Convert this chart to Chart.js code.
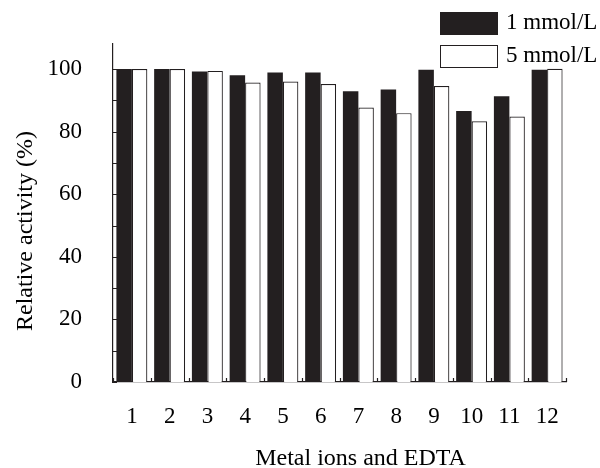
<!DOCTYPE html>
<html>
<head>
<meta charset="utf-8">
<script src="https://cdn.jsdelivr.net/npm/chart.js@4/dist/chart.umd.min.js"></script>
<style>
  html, body { margin: 0; padding: 0; background: #fff; }
  #wrap { width: 600px; height: 468px; }
</style>
</head>
<body>
<div id="wrap"><canvas id="grafico"></canvas></div>
<script>
// datos
const categorias = ['1', '2', '3', '4', '5', '6', '7', '8', '9', '10', '11', '12'];
const actividad1mM = [100, 100, 99.2, 98.0, 98.9, 98.9, 92.9, 93.5, 99.8, 86.6, 91.3, 99.8];
const actividad5mM = [100, 100, 99.4, 95.7, 96.0, 95.2, 87.7, 85.9, 94.6, 83.3, 84.8, 100.1];
const etiquetasSerie = ['1 mmol/L', '5 mmol/L'];

const fuente = 'Liberation Serif, Times New Roman, serif';
const negro = '#231f20';

// marcas de eje hacia adentro
const ticksInternos = {
    id: 'ticksInternos',
    afterDraw(chart) {
        const ctx = chart.ctx;
        const y = chart.scales.y;
        const x = chart.scales.x;
        ctx.save();
        ctx.strokeStyle = negro;
        ctx.lineWidth = 1.2;
        ctx.beginPath();
        y.ticks.forEach(t => {
            const py = Math.round(y.getPixelForValue(t.value)) + 0.5;
            ctx.moveTo(x.left, py);
            ctx.lineTo(x.left + 4, py);
        });
        for (let i = 0; i <= categorias.length; i++) {
            const px = Math.round(x.getPixelForValue(i - 0.5)) + 0.5;
            ctx.moveTo(px, y.bottom);
            ctx.lineTo(px, y.bottom - 4);
        }
        ctx.stroke();
        ctx.restore();
    }
};

// leyenda arriba a la derecha
const leyenda = {
    id: 'leyenda',
    afterDraw(chart) {
        const ctx = chart.ctx;
        ctx.save();
        chart.data.datasets.forEach((ds, i) => {
            const bx = 440, by = 12 + i * 33;
            ctx.fillStyle = ds.backgroundColor;
            ctx.fillRect(bx, by, 57, 22);
            ctx.strokeStyle = negro;
            ctx.lineWidth = 1;
            ctx.strokeRect(bx + 0.5, by + 0.5, 57, 22);
            ctx.fillStyle = '#000';
            ctx.font = '23px ' + fuente;
            ctx.textBaseline = 'middle';
            ctx.textAlign = 'left';
            ctx.fillText(ds.label, 506, by + 11);
        });
        ctx.restore();
    }
};

const config = {
    type: 'bar',
    data: {
        labels: categorias,
        datasets: [{
            label: etiquetasSerie[0],
            data: actividad1mM,
            backgroundColor: negro,
            borderColor: negro,
            borderWidth: 0,
            categoryPercentage: 0.82,
            barPercentage: 1,
        }, {
            label: etiquetasSerie[1],
            data: actividad5mM,
            backgroundColor: '#ffffff',
            borderColor: negro,
            borderWidth: 1.2,
            categoryPercentage: 0.82,
            barPercentage: 1,
        }]
    },
    options: {
        responsive: true,
        maintainAspectRatio: false,
        animation: false,
        layout: { padding: { top: 44, right: 34, left: 0, bottom: 0 } },
        plugins: {
            legend: { display: false },
            tooltip: { enabled: false },
        },
        scales: {
            x: {
                grid: { display: false },
                border: { display: true, color: negro, width: 1.2 },
                ticks: { color: '#000', font: { family: fuente, size: 23 }, padding: 13, maxRotation: 0 },
                // espacios iniciales: el titulo original no esta centrado
                title: { display: true, text: '       Metal ions and EDTA', color: '#000', font: { family: fuente, size: 24 }, padding: { top: 0, bottom: -5 } },
                afterFit(scale) { scale.height = 86; },
            },
            y: {
                min: 0,
                max: 108,
                grid: { display: false },
                border: { display: true, color: negro, width: 1.2 },
                ticks: {
                    stepSize: 10,
                    includeBounds: false,
                    color: '#000',
                    padding: 23,
                    font: { family: fuente, size: 23 },
                    callback: (v) => (v % 20 === 0 ? v : ''),
                },
                title: { display: true, text: 'Relative activity (%)      ', color: '#000', font: { family: fuente, size: 24 }, padding: { top: 11, bottom: 0 } },
                afterFit(scale) { scale.width = 113; },
            },
        },
    },
    plugins: [ticksInternos, leyenda],
};

new Chart(document.getElementById('grafico').getContext('2d'), config);
</script>
</body>
</html>
